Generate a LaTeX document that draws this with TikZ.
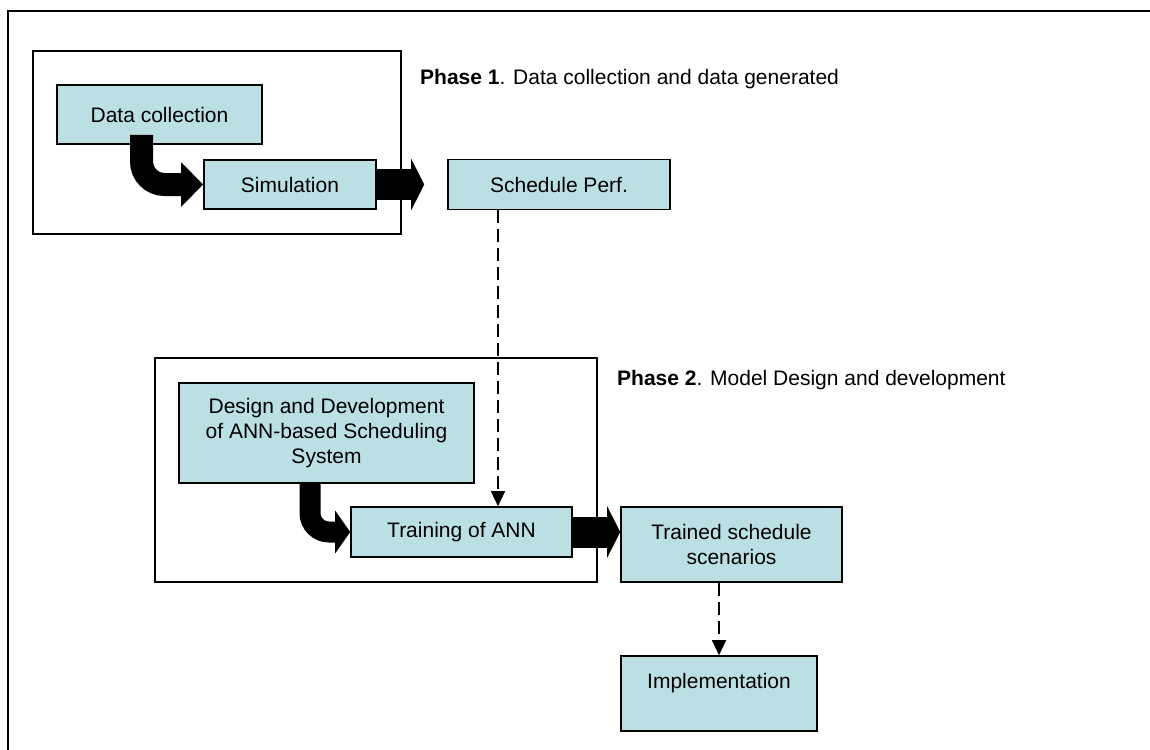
\documentclass[tikz,border=0pt]{standalone}
\usepackage{fontspec}
\setmainfont{Liberation Sans}
\usetikzlibrary{arrows.meta,calc}
\definecolor{boxfill}{RGB}{187,224,227}
\tikzset{
  block/.style={draw, fill=boxfill, line width=1.6pt, inner sep=0pt, align=center, font=\fontsize{21}{25}\selectfont},
  group/.style={draw, line width=1.6pt, inner sep=0pt},
  phase/.style={anchor=west, inner sep=0pt, font=\fontsize{21}{25}\selectfont},
  fatarrow/.style={line width=31pt, -{Triangle[length=13pt,width=51pt]}},
  dashlink/.style={line width=1.3pt, dash pattern=on 13pt off 6pt, -{Triangle[length=15pt,width=14pt]}}
}
\begin{document}
\begin{tikzpicture}[x=1pt,y=-1pt]
\useasboundingbox (0,0) rectangle (1150,749);
\clip (0,0) rectangle (1150,749);
\draw[line width=1.6pt] (8,11) rectangle (1200,800);
% phase 1
\node[group, minimum width=368pt, minimum height=183pt] (P1) at (217,142.5) {};
\node[phase] (L1) at (420,79) {\textbf{Phase 1}. Data collection and data generated};
\node[block, minimum width=205pt, minimum height=59pt] (DC) at (159.5,114.5) {Data collection};
\node[block, minimum width=172pt, minimum height=49pt] (SIM) at (290,184.5) {Simulation};
\node[block, minimum width=222pt, minimum height=50pt] (SP) at (559,184.5) {Schedule Perf.};
% phase 2
\node[group, minimum width=442pt, minimum height=224pt] (P2) at (376,470) {};
\node[phase] (L2) at (617,380) {\textbf{Phase 2}. Model Design and development};
\node[block, minimum width=295pt, minimum height=100pt] (DD) at (326.5,433) {Design and Development\\of ANN-based Scheduling\\System};
\node[block, minimum width=221pt, minimum height=50pt] (TR) at (461.5,532) {Training of ANN};
\node[block, minimum width=221pt, minimum height=75pt] (TS) at (731.5,544.5) {Trained schedule\\scenarios};
\node[block, minimum width=196pt, minimum height=75pt] (IM) at (719,693.5) {Implementation\\~};
% arrows
\draw[line width=23pt, rounded corners=23pt, -{Triangle[length=22pt,width=43pt]}] ([xshift=-18pt,yshift=10pt]DC.south) |- (SIM.west);
\draw[fatarrow, shorten >=23pt] (SIM.east) -- (SIM.east -| SP.west);
\draw[line width=21pt, rounded corners=19pt, -{Triangle[length=15pt,width=42pt]}] ([xshift=-16.5pt]DD.south) |- (TR.west);
\draw[fatarrow] (TR.east) -- (TR.east -| TS.west);
\draw[dashlink] ([xshift=-61pt]SP.south) -- ([xshift=-61pt]SP.south |- TR.north);
\draw[dashlink] (TS.south -| IM.north) -- (IM.north);
\end{tikzpicture}
\end{document}
